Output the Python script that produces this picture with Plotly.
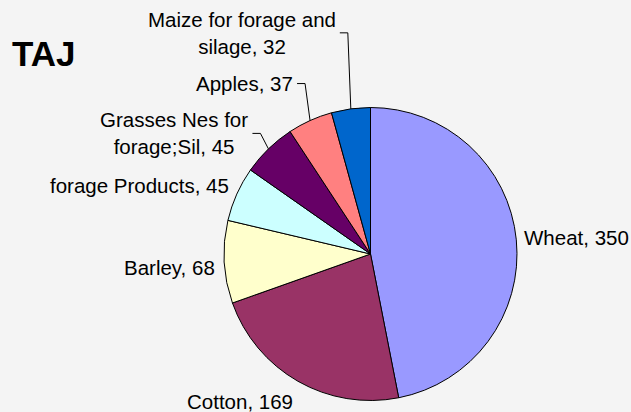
import math
import plotly.graph_objects as go

# ---- data ----
categories = ["Wheat", "Cotton", "Barley", "forage Products",
              "Grasses Nes for forage;Sil", "Apples", "Maize for forage and silage"]
values = [350, 169, 68, 45, 45, 37, 32]
colors = ["#9999FF", "#993366", "#FFFFCC", "#CCFFFF", "#660066", "#FF8080", "#0066CC"]
title_text = "TAJ"

# display names with wrapped lines (same words as categories)
display_names = {
    "Grasses Nes for forage;Sil": "Grasses Nes for<br>forage;Sil",
    "Maize for forage and silage": "Maize for forage and<br>silage",
}

# ---- layout (pixels) ----
W, H = 631, 412
CX, CY, R = 370.5, 254.0, 146.5
BG = "#F4F4F4"
FONT = "Liberation Sans, Arial, sans-serif"

# label placement relative to the slice's mid-angle edge point: (dx, dy, xanchor, leader)
label_style = [
    (6, -2, "left", False),
    (-3, 20, "right", False),
    (-7, 5, "right", False),
    (-6, -9, "right", False),
    (-18, -15.5, "right", True),
    (-15, -37, "right", True),
    (-13, -76, "right", True),
]

def px_to_paper(x, y):
    return x / W, 1 - y / H

fig = go.Figure(go.Pie(
    labels=categories,
    values=values,
    sort=False,
    direction="clockwise",
    rotation=0,
    marker=dict(colors=colors, line=dict(color="black", width=1)),
    textinfo="none",
    hoverinfo="label+value",
    showlegend=False,
    domain=dict(x=[(CX - R) / W, (CX + R) / W],
                y=[(H - CY - R) / H, (H - CY + R) / H]),
))

annotations = []
shapes = []
total = sum(values)
cum = 0.0
for cat, val, (dx, dy, xa, leader) in zip(categories, values, label_style):
    mid = (cum + val / 2) / total * 2 * math.pi
    cum += val
    ex = CX + R * math.sin(mid)
    ey = CY - R * math.cos(mid)
    lx, ly = ex + dx, ey + dy
    name = display_names.get(cat, cat)
    px, py = px_to_paper(lx, ly)
    annotations.append(dict(
        x=px, y=py, xref="paper", yref="paper",
        xanchor=xa, yanchor="middle", align="center",
        text=f"{name}, {val}", showarrow=False,
        font=dict(family=FONT, size=20.5, color="black"),
    ))
    if leader:
        end_x = lx + 2
        elbow_x = lx + 10
        p0 = px_to_paper(end_x, ly)
        p1 = px_to_paper(elbow_x, ly)
        p2 = px_to_paper(ex, ey)
        shapes.append(dict(
            type="path", xref="paper", yref="paper",
            path=f"M {p0[0]},{p0[1]} L {p1[0]},{p1[1]} L {p2[0]},{p2[1]}",
            line=dict(color="black", width=1),
        ))

tx, ty = px_to_paper(10, 53)
annotations.append(dict(
    x=tx, y=ty, xref="paper", yref="paper", xanchor="left", yanchor="middle",
    text=f"<b>{title_text}</b>", showarrow=False,
    font=dict(family="Liberation Sans, Arial", size=35, color="black"),
))

fig.update_layout(
    width=W, height=H,
    margin=dict(l=0, r=0, t=0, b=0),
    paper_bgcolor=BG, plot_bgcolor=BG,
    annotations=annotations, shapes=shapes,
)

fig.write_html(
    "out.html",
    config={"displayModeBar": False},
    post_script="document.body.style.margin='0';document.body.style.overflow='hidden';",
)
